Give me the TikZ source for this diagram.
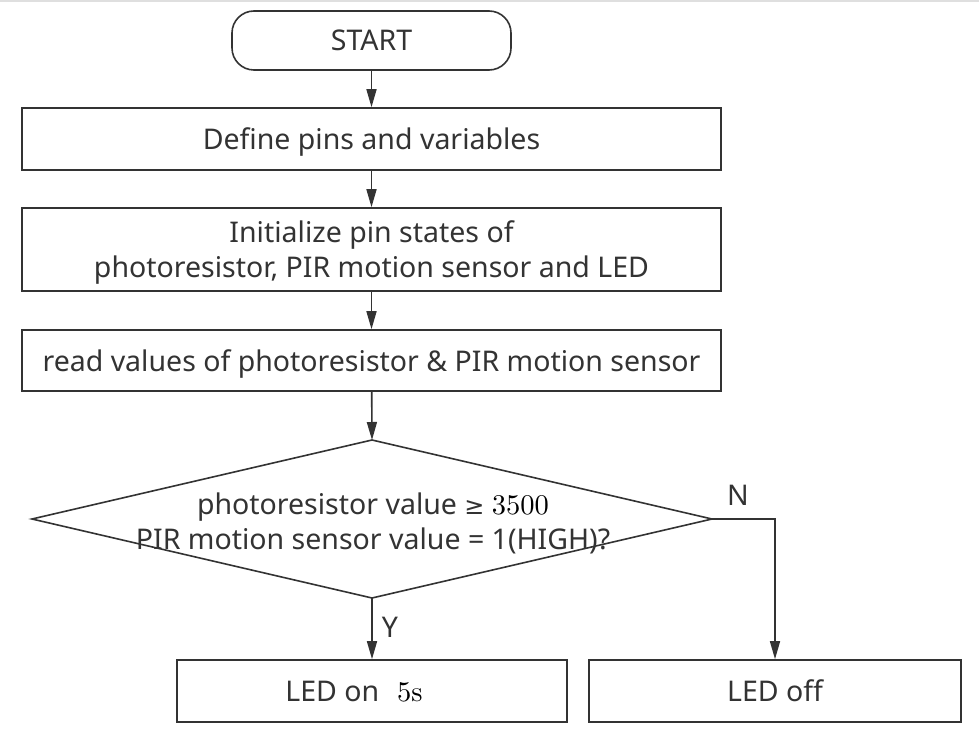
\documentclass[tikz,border=0pt]{standalone}
\usepackage{fontspec}
\setmainfont{Noto Sans}
\newfontfamily\symfont{DejaVu Sans}
\newfontfamily\lmr{lmroman10-regular.otf}
\usetikzlibrary{arrows.meta}
\definecolor{ink}{HTML}{333333}
\begin{document}
\begin{tikzpicture}[x=1pt,y=-1pt,
  every node/.style={text=ink, font=\fontsize{28.5}{35}\selectfont},
  box/.style={draw=ink, line width=1.6pt, inner sep=0pt, align=center, text depth=0pt},
  conn/.style={draw=ink, line width=1.6pt, -{Triangle[length=18pt,width=10pt]}},
  plain/.style={draw=ink, line width=1.6pt},
]
\useasboundingbox (0,0) rectangle (979,738);
\draw[gray!25, line width=1.2pt] (0,1) -- (979,1);
\node[box, rounded corners=22pt, minimum width=279pt, minimum height=59pt] (start) at (371.5,40.5) {START};
\node[box, minimum width=699pt, minimum height=62pt] (def) at (371.5,139) {Define pins and variables};
\node[box, minimum width=699pt, minimum height=83pt] (init) at (371.5,249.5) {Initialize pin states of\\photoresistor, PIR motion sensor and LED};
\node[box, minimum width=699pt, minimum height=61pt] (read) at (371.5,360.5) {read values of photoresistor \& PIR motion sensor};
\coordinate (dt) at (372,440);
\coordinate (dl) at (32,519);
\coordinate (dr) at (712,519);
\coordinate (db) at (372,598);
\draw[plain, line join=miter] (dt) -- (dr) -- (db) -- (dl) -- cycle;
\node[align=center, inner sep=0pt] (cond) at (373,523) {photoresistor value {\symfont\fontsize{24}{35}\selectfont ≥} {\lmr\color{black}3500}\\PIR motion sensor value = 1(HIGH)?};
\node[box, minimum width=390pt, minimum height=62pt] (ledon) at (372,691) {LED on\hspace{18pt}{\lmr\color{black}5s}\hspace*{36pt}};
\node[box, minimum width=372pt, minimum height=62pt] (ledoff) at (775,691) {LED off};
\draw[conn] (start) -- (def);
\draw[conn] (def) -- (init);
\draw[conn] (init) -- (read);
\draw[conn] (read) -- (dt);
\draw[conn] (db) -- (ledon);
\draw[conn] (dr) -| (ledoff);
\node[inner sep=0pt] (lN) at (738,495) {N};
\node[inner sep=0pt] (lY) at (390,627) {Y};
\end{tikzpicture}
\end{document}
